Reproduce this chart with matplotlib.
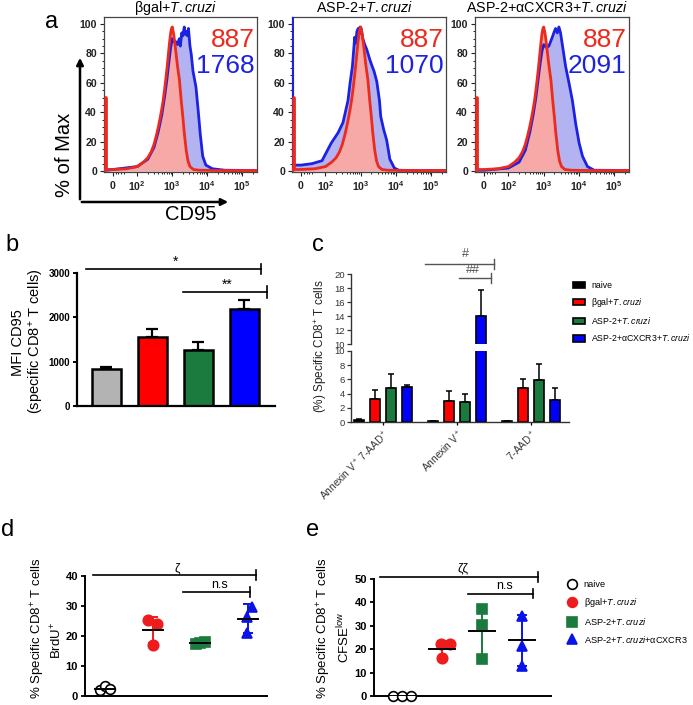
import numpy as np
import matplotlib
matplotlib.use("Agg")
import matplotlib.pyplot as plt
from matplotlib.patches import Patch
from matplotlib.lines import Line2D
from matplotlib.ticker import MultipleLocator

plt.rcParams['font.family'] = ['Liberation Sans', 'DejaVu Sans']
plt.rcParams['mathtext.fontset'] = 'custom'
plt.rcParams['mathtext.rm'] = 'Liberation Sans'
plt.rcParams['mathtext.it'] = 'Liberation Sans:italic'
plt.rcParams['mathtext.bf'] = 'Liberation Sans:bold'

W, H = 693, 705

# ---- panel a: CD95 histograms (% of max); red = control, same in every panel
hist_titles = ['βgal+$\\mathit{T.cruzi}$', 'ASP-2+$\\mathit{T.cruzi}$',
               'ASP-2+αCXCR3+$\\mathit{T.cruzi}$']
red_mfi = '887'
blue_mfi = ['1768', '1070', '2091']

red_x = [-33, -27, -26, -25, -24, 0, 50, 100, 150, 200, 250, 300, 350, 400, 450, 500,
         550, 600, 650, 700, 750, 800, 850, 900, 950, 1000, 1100, 1200, 1400, 1600,
         1800, 2000, 2200, 2500, 2800, 3200, 4000, 6000, 20000, 262000]
red_y = [0.5, 0.5, 50, 50, 1, 1, 1.5, 3, 6, 9, 13, 18, 24, 30, 36, 42,
         48, 55, 62, 69, 76, 83, 89, 94, 97, 98, 93, 86, 72, 62,
         48, 37, 26, 14, 7, 3, 1, 0.5, 0.3, 0.3]

blue1_x = [-33, -24, 0, 100, 200, 300, 400, 500, 600, 700, 800, 900, 1000, 1100, 1260,
           1400, 1585, 1700, 1870, 2000, 2200, 2350, 2500, 2700, 2900, 3200, 3500, 3900,
           4750, 5500, 6300, 7400, 9100, 14000, 32000, 262000]
blue1_y = [0.5, 0.5, 1, 3, 8, 16, 27, 38, 50, 62, 74, 84, 90, 88, 88,
           86, 90, 85, 94, 92, 98, 93, 95, 92, 97, 85, 79, 68,
           57, 41, 25, 10, 4, 1.5, 0.5, 0.3]

blue2_x = [-33, -32.5, -31, -30, 0, 40, 80, 146, 228, 315, 436, 500, 580, 675, 720, 780,
           850, 900, 950, 1030, 1150, 1300, 1470, 1800, 2130, 2380, 2850, 3400, 3700,
           4500, 5450, 6700, 9000, 12000, 30000, 262000]
blue2_y = [0, 110, 110, 4, 4, 5, 7, 19, 26, 33, 48, 60, 71, 91, 87, 95,
           97, 93, 98, 97, 90, 86, 83, 76, 71, 68, 61, 48, 37,
           28, 21, 8, 2, 0.5, 0.3, 0.3]

blue3_x = [-33, 0, 100, 200, 300, 400, 500, 600, 700, 800, 900, 1000, 1200, 1400, 1750,
           2000, 2170, 2430, 2700, 3000, 3370, 4190, 5200, 6500, 8090, 10100, 12600,
           17400, 27000, 262000]
blue3_y = [0.5, 0.5, 2, 6, 14, 26, 38, 50, 63, 74, 82, 86, 84, 85, 91,
           95, 97, 94, 98, 94, 86, 71, 60, 48, 32, 19, 10,
           3, 0.5, 0.3]

# ---- panel b: MFI CD95
b_mean = [830, 1555, 1265, 2185]
b_sem = [50, 185, 185, 205]

# ---- panel c: apoptosis (%)
c_categories = ['Annexin V$^+$ 7-AAD$^+$', 'Annexin V$^+$', '7-AAD$^+$']
c_labels = ['naive', 'βgal+$\\mathit{T.cruzi}$', 'ASP-2+$\\mathit{T.cruzi}$',
            'ASP-2+αCXCR3+$\\mathit{T.cruzi}$']
c_naive = [0.35, 0.15, 0.15]
c_bgal = [3.2, 2.9, 4.75]
c_asp2 = [4.85, 2.8, 5.9]
c_cxcr3 = [4.97, 14.0, 3.15]
c_naive_err = [0.1, 0.05, 0.05]
c_bgal_err = [1.3, 1.4, 1.35]
c_asp2_err = [1.95, 1.2, 2.3]
c_cxcr3_err = [0.25, 3.75, 1.65]

# ---- panel d: BrdU+
d_naive = [2.0, 3.2, 2.4]
d_bgal = [25.3, 24.0, 17.0]
d_asp2 = [17.3, 18.0, 17.6]
d_cxcr3 = [29.7, 26.3, 21.0]
d_mean = [2.5, 22.0, 17.6, 25.8]
d_sd = [0.6, 4.4, 0.4, 4.9]

# ---- panel e: CFSE low
e_labels = ['naive', 'βgal+$\\mathit{T.cruzi}$', 'ASP-2+$\\mathit{T.cruzi}$',
            'ASP-2+$\\mathit{T.cruzi}$+αCXCR3']
e_naive = [0, 0, 0]
e_bgal = [16.3, 22.3, 22.3]
e_asp2 = [37.2, 30.2, 16.0]
e_cxcr3 = [34.3, 21.4, 12.9]
e_mean = [0, 20.1, 27.7, 23.8]
e_sd = [0, 3.5, 10.8, 11.0]

RED, BLUE = '#ec2a1e', '#1c22e0'
RED_FILL, BLUE_FILL = '#f6a9a6', '#b3b3f2'
bar_colors = ['#b3b3b3', '#ff0000', '#1b7a3e', '#0000ff']
c_colors = ['#000000', '#ff0000', '#1b7a3e', '#0000ff']
dot_colors = ['#000000', '#ee1c1c', '#1b7a3e', '#0a14e6']
dot_markers = ['o', 'o', 's', '^']

fig = plt.figure(figsize=(W / 100, H / 100), dpi=100)


def px_axes(l, t, r, b):
    return fig.add_axes([l / W, 1 - b / H, (r - l) / W, (b - t) / H])


def sig(ax, x0, x1, y, tick, label, lx, ly, color='k', fs=9, lw=1.2):
    ax.plot([x0, x1], [y, y], color=color, lw=lw, clip_on=False)
    ax.plot([x1, x1], [y - tick, y + tick], color=color, lw=lw, clip_on=False)
    ax.text(lx, ly, label, ha='center', va='center', fontsize=fs, color=color, clip_on=False)


# ================= panel a =================
hist_boxes = [(104, 17, 257, 172), (292, 17, 446, 172), (475, 17, 629, 172)]
blues = [(blue1_x, blue1_y), (blue2_x, blue2_y), (blue3_x, blue3_y)]
minor_x = [10, 20, 30, 40] + [m * 10 ** k for k in (2, 3, 4) for m in range(2, 10)] + [2e5]
for i, box in enumerate(hist_boxes):
    ax = px_axes(*box)
    ax.set_xscale('symlog', linthresh=50, linscale=0.351)
    bx, by = blues[i]
    ax.fill_between(bx, by, color=BLUE_FILL, lw=0, zorder=1)
    ax.fill_between(red_x, red_y, color=RED_FILL, lw=0, zorder=2)
    ax.plot(bx, by, color=BLUE, lw=2, zorder=3)
    ax.plot(red_x, red_y, color=RED, lw=2, zorder=4)
    ax.set_xlim(-33, 262000)
    ax.set_ylim(-0.7, 104.8)
    ax.set_xticks([0, 100, 1000, 10000, 100000])
    ax.set_xticklabels(['$\\mathbf{0}$', '$\\mathbf{10^2}$', '$\\mathbf{10^3}$',
                        '$\\mathbf{10^4}$', '$\\mathbf{10^5}$'])
    ax.set_xticks(minor_x, minor=True)
    ax.set_yticks([0, 20, 40, 60, 80, 100])
    ax.yaxis.set_minor_locator(MultipleLocator(5))
    ax.tick_params(labelsize=7.6, length=3, width=0.8, pad=2, colors='#222')
    ax.tick_params(which='minor', length=1.5, width=0.6)
    for lab in ax.get_yticklabels():
        lab.set_fontweight('bold')
    for s in ax.spines.values():
        s.set_color('#444')
        s.set_linewidth(0.9)
    ax.text(0.985, 0.806, red_mfi, transform=ax.transAxes, ha='right', va='baseline',
            fontsize=19, color=RED, zorder=6)
    ax.text(0.985, 0.639, blue_mfi[i], transform=ax.transAxes, ha='right', va='baseline',
            fontsize=19, color=BLUE, zorder=6)
    fig.text(((box[0] + box[2]) / 2 - 5) / W, 1 - 8 / H, hist_titles[i],
             ha='center', va='center', fontsize=10.3)

fig.text(52 / W, 1 - 22 / H, 'a', ha='center', va='center', fontsize=17)
fig.add_artist(matplotlib.patches.FancyArrowPatch(
    (80 / W, 1 - 202 / H), (80 / W, 1 - 55 / H), transform=fig.transFigure,
    arrowstyle='-|>', mutation_scale=10, lw=1.8, color='k'))
fig.add_artist(matplotlib.patches.FancyArrowPatch(
    (79 / W, 1 - 202 / H), (231 / W, 1 - 202 / H), transform=fig.transFigure,
    arrowstyle='-|>', mutation_scale=10, lw=1.8, color='k'))
fig.text(64 / W, 1 - 155 / H, '% of Max', rotation=90, ha='center', va='center', fontsize=14.5)
fig.text(191 / W, 1 - 215 / H, 'CD95', ha='center', va='center', fontsize=14.5)

# ================= panel b =================
axb = px_axes(77, 273, 275, 406)
xb = np.arange(len(b_mean))
axb.bar(xb, b_mean, width=0.63, color=bar_colors, edgecolor='k', lw=1.8, zorder=2)
axb.errorbar(xb, b_mean, yerr=[np.zeros(len(b_sem)), b_sem], fmt='none', ecolor='k',
             elinewidth=1.6, capsize=4.3, capthick=1.6, zorder=1)
axb.set_xlim(-0.63, 3.67)
axb.set_ylim(0, 3000)
axb.set_xticks([])
axb.set_yticks([0, 1000, 2000, 3000])
axb.tick_params(axis='y', labelsize=7, length=3, width=1.4, pad=2)
for lab in axb.get_yticklabels():
    lab.set_fontweight('bold')
for s in ['top', 'right']:
    axb.spines[s].set_visible(False)
for s in ['left', 'bottom']:
    axb.spines[s].set_linewidth(1.6)
sig(axb, -0.43, 3.37, 3090, 115, '*', 1.5, 3250, fs=10)
sig(axb, 1.67, 3.5, 2570, 135, '**', 2.63, 2730, fs=10)
fig.text(12 / W, 1 - 245 / H, 'b', ha='center', va='center', fontsize=17)
fig.text(18 / W, 1 - 343 / H, 'MFI CD95', rotation=90, ha='center', va='center', fontsize=10.5)
fig.text(37 / W, 1 - 341 / H, '(specific CD8$^{+}$ T cells)', rotation=90,
         ha='center', va='center', fontsize=10.5)

# ================= panel c =================
axc_lo = px_axes(351, 351, 569, 422)
axc_hi = px_axes(351, 274, 569, 344)
c_vals = [c_naive, c_bgal, c_asp2, c_cxcr3]
c_errs = [c_naive_err, c_bgal_err, c_asp2_err, c_cxcr3_err]
xc = np.arange(len(c_categories))
offs = [-0.324, -0.108, 0.108, 0.324]
handles = []
for ax in (axc_lo, axc_hi):
    for j in range(4):
        ax.bar(xc + offs[j], c_vals[j], width=0.128, color=c_colors[j],
               edgecolor='k', lw=1.2, zorder=2)
        ax.errorbar(xc + offs[j], c_vals[j], yerr=[np.zeros(3), c_errs[j]], fmt='none',
                    ecolor='k', elinewidth=1.1, capsize=2.2, capthick=1.1, zorder=1)
        if ax is axc_lo:
            handles.append(Patch(facecolor=c_colors[j], edgecolor='k', lw=1.2))
    ax.set_xlim(-0.43, 2.51)
    ax.tick_params(axis='y', labelsize=6.8, length=3, width=0.9, pad=1.2, colors='#333')
    for s in ['top', 'right']:
        ax.spines[s].set_visible(False)
    for s in ['left', 'bottom']:
        ax.spines[s].set_linewidth(1.0)
        ax.spines[s].set_color('#333')
axc_lo.set_ylim(0, 10)
axc_lo.set_yticks([0, 2, 4, 6, 8, 10])
axc_lo.set_xticks(xc)
axc_lo.set_xticklabels(c_categories, rotation=45, ha='right', rotation_mode='anchor',
                       fontsize=7.3, color='#333')
axc_lo.tick_params(axis='x', length=2.5, width=0.9, pad=2)
axc_hi.set_ylim(10, 20)
axc_hi.set_yticks([10, 12, 14, 16, 18, 20])
axc_hi.set_xticks([])
axc_hi.spines['bottom'].set_visible(False)
sig(axc_hi, 0.57, 1.5, 21.47, 0.7, '#', 1.12, 22.9, color='#555', fs=9, lw=1.0)
sig(axc_hi, 1.03, 1.46, 19.43, 0.72, '##', 1.22, 20.6, color='#555', fs=9, lw=1.0)
axc_hi.legend(handles, c_labels, loc='upper left', bbox_to_anchor=(573 / W, 1 - 281 / H),
              bbox_transform=fig.transFigure, frameon=False, fontsize=6.3, borderpad=0,
              borderaxespad=0, handlelength=1.4, handleheight=0.75, handletextpad=0.65,
              labelspacing=0.7)
fig.text(318 / W, 1 - 245 / H, 'c', ha='center', va='center', fontsize=17)
fig.text(321 / W, 1 - 346 / H, '(%) Specific CD8$^{+}$ T cells', rotation=90,
         ha='center', va='center', fontsize=8.5, color='#222')


# ================= panels d and e =================
def dot_panel(ax, groups, means, sds, offsets, half, sizes):
    for i, vals in enumerate(groups):
        col = dot_colors[i]
        ax.errorbar(i, means[i], yerr=sds[i], fmt='none', ecolor=col, elinewidth=1.4,
                    capsize=3.6, capthick=1.4, zorder=2)
        face = 'white' if i == 0 else col
        ax.plot(np.array(offsets[i]) + i, vals, linestyle='none', marker=dot_markers[i],
                ms=sizes[i], mfc=face, mec=col, mew=1.2, zorder=3, clip_on=False)
        ax.plot([i - half, i + half], [means[i], means[i]], color='k', lw=1.4, zorder=4)
    ax.set_xticks([])
    ax.tick_params(axis='y', labelsize=8, length=3, width=1.3, pad=2)
    for lab in ax.get_yticklabels():
        lab.set_fontweight('bold')
    for s in ['top', 'right']:
        ax.spines[s].set_visible(False)
    for s in ['left', 'bottom']:
        ax.spines[s].set_linewidth(1.4)


axd = px_axes(85, 576, 267, 696)
axd.set_ylim(0, 40)
axd.set_yticks([0, 10, 20, 30, 40])
dot_panel(axd, [d_naive, d_bgal, d_asp2, d_cxcr3], d_mean, d_sd,
          [[-0.1, 0.0, 0.1], [-0.1, 0.1, 0.0], [-0.1, 0.1, 0.0], [0.08, -0.02, -0.02]],
          0.21, [7, 7.5, 6.5, 7.5])
axd.set_xlim(-0.42, 3.4)
sig(axd, -0.25, 3.17, 40.3, 1.7, 'ζ', 1.51, 42.7, fs=9)
sig(axd, 1.64, 3.04, 34.7, 1.7, 'n.s', 2.41, 36.9, fs=9)
fig.text(8 / W, 1 - 530 / H, 'd', ha='center', va='center', fontsize=17)
fig.text(38 / W, 1 - 628 / H, '% Specific CD8$^{+}$ T cells', rotation=90,
         ha='center', va='center', fontsize=9.5)
fig.text(57 / W, 1 - 640 / H, 'BrdU$^{+}$', rotation=90, ha='center', va='center', fontsize=9.5)

axe = px_axes(374, 579, 551, 696)
axe.set_ylim(0, 50)
axe.set_yticks([0, 10, 20, 30, 40, 50])
dot_panel(axe, [e_naive, e_bgal, e_asp2, e_cxcr3], e_mean, e_sd,
          [[-0.22, 0.0, 0.22], [0.0, -0.03, 0.2], [0, 0, 0], [0, 0, 0]],
          0.32, [7, 7.5, 7, 7.5])
axe.set_xlim(-0.7, 3.72)
sig(axe, -0.55, 3.4, 51, 2.1, 'ζζ', 1.51, 54.5, fs=9)
sig(axe, 1.64, 3.28, 43.8, 2.1, 'n.s', 2.56, 47.2, fs=9)
e_handles = [Line2D([], [], linestyle='none', marker=dot_markers[i], ms=7,
                    mfc='white' if i == 0 else dot_colors[i], mec=dot_colors[i], mew=1.2)
             for i in range(4)]
axe.legend(e_handles, e_labels, loc='upper left', bbox_to_anchor=(566 / W, 1 - 580 / H),
           bbox_transform=fig.transFigure, frameon=False, fontsize=6.6, borderpad=0,
           borderaxespad=0, handlelength=1.4, handletextpad=0.55, labelspacing=0.75)
fig.text(313 / W, 1 - 530 / H, 'e', ha='center', va='center', fontsize=17)
fig.text(324 / W, 1 - 628 / H, '% Specific CD8$^{+}$ T cells', rotation=90,
         ha='center', va='center', fontsize=9.5)
fig.text(344 / W, 1 - 637 / H, 'CFSE$^{\\mathrm{low}}$', rotation=90,
         ha='center', va='center', fontsize=9.5)

plt.savefig('out.png', dpi=100)
